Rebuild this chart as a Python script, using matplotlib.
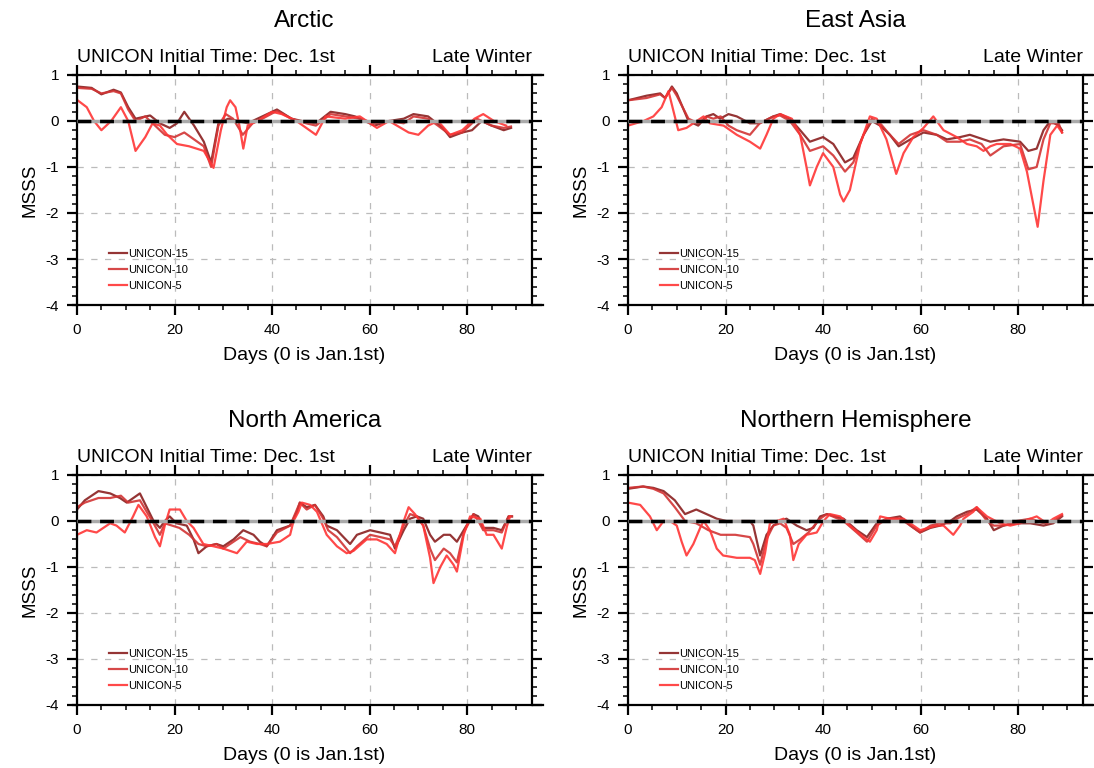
import numpy as np
import matplotlib
matplotlib.use("Agg")
import matplotlib.pyplot as plt
from matplotlib.ticker import MultipleLocator

plt.rcParams['font.family'] = ['Liberation Sans', 'DejaVu Sans']
plt.rcParams['axes.unicode_minus'] = False

# ---- Arctic ----
arc_x15 = [0, 3, 5, 7.5, 9, 10.5, 12, 15, 17, 19, 20.5, 22, 24, 26, 27.5, 29, 31, 33, 35, 38,
           41, 44, 47, 49, 52, 55, 57, 61, 64, 67, 69, 72, 75, 76.5, 79, 81, 83, 85, 87.5, 89]
arc_y15 = [0.75, 0.72, 0.58, 0.68, 0.62, 0.3, 0.05, 0.12, -0.05, -0.15, -0.05, 0.2, -0.1, -0.45, -0.9, -0.05, 0.05, 0.0, -0.05, 0.1,
           0.25, 0.05, -0.02, -0.05, 0.2, 0.15, 0.1, -0.1, 0.0, 0.05, 0.15, 0.1, -0.15, -0.35, -0.25, -0.2, 0.0, -0.1, -0.2, -0.15]
arc_x10 = [0, 3, 5, 7.5, 9, 10.5, 12, 14, 16, 18, 20, 22, 24, 26, 27.5, 29, 30.5, 32, 34, 36,
           38, 41, 44, 47, 49, 52, 55, 58, 61, 64, 67, 69, 72, 74, 76.5, 79, 82, 85, 87.5, 89]
arc_y10 = [0.72, 0.7, 0.6, 0.65, 0.6, 0.25, 0.0, 0.1, -0.1, -0.3, -0.35, -0.25, -0.4, -0.55, -1.0, -0.1, 0.15, 0.05, -0.3, -0.05,
           0.05, 0.22, 0.05, -0.05, -0.1, 0.15, 0.1, 0.05, -0.05, 0.0, -0.05, 0.1, 0.05, -0.1, -0.3, -0.25, 0.05, -0.1, -0.15, -0.12]
arc_x5 = [0, 2, 3.5, 5, 7, 9, 10.5, 12, 14, 15.5, 17, 18.5, 20.5, 23, 26, 28, 29.5, 30.7, 31.4, 32.5,
          33.3, 34.1, 35, 37, 40, 42, 45, 49, 51, 55, 58, 61.5, 64, 68, 70, 72, 74, 76.5, 79, 81.5, 83.3, 85.5, 88]
arc_y5 = [0.46, 0.3, 0.0, -0.2, 0.0, 0.3, 0.0, -0.65, -0.35, -0.05, -0.1, -0.3, -0.5, -0.55, -0.65, -1.02, -0.2, 0.3, 0.45, 0.3,
          -0.1, -0.6, -0.1, 0.0, 0.2, 0.15, 0.0, -0.3, 0.1, 0.05, 0.1, -0.15, 0.0, -0.25, -0.3, -0.1, 0.0, -0.3, -0.2, 0.05, 0.15, 0.0, -0.1]

# ---- East Asia ----
ea_x15 = [0, 3.8, 6.6, 7.6, 9, 10, 12.4, 14.4, 16.1, 17.5, 18.9, 20.6, 22.3, 25, 27, 29.8, 31.2, 33.2, 35.3, 37.3,
          40, 42.1, 44.5, 46.2, 48.3, 50, 51.7, 53.7, 55.5, 57.9, 60.6, 63.3, 65.4, 68.1, 70.1, 71.5, 74.3, 77, 80.4, 82.1,
          83.8, 85.2, 86.6, 88.3, 89]
ea_y15 = [0.45, 0.55, 0.6, 0.5, 0.75, 0.6, 0.0, -0.1, 0.1, 0.15, 0.05, 0.15, 0.1, -0.05, -0.05, 0.1, 0.15, 0.05, -0.2, -0.45,
          -0.35, -0.5, -0.9, -0.8, -0.3, 0.0, -0.1, -0.3, -0.55, -0.4, -0.25, -0.3, -0.4, -0.35, -0.3, -0.35, -0.45, -0.4, -0.45, -0.65,
          -0.6, -0.2, 0.0, -0.1, -0.2]
ea_x10 = [0, 3.8, 6.6, 7.6, 9, 10, 12.4, 14.4, 16.1, 17.5, 19, 20.6, 22.3, 25, 27, 29.8, 31.2, 33.2, 35.3, 37.3,
          40, 42.1, 44.5, 46.2, 48.3, 50, 51.7, 53.7, 55.5, 57.9, 60.6, 63.3, 65.4, 68.1, 70.1, 72.5, 74.3, 77, 80.4, 82.1,
          83.8, 85.2, 86.6, 88.3, 89]
ea_y10 = [0.45, 0.5, 0.58, 0.5, 0.72, 0.55, 0.05, -0.05, 0.1, 0.05, 0.1, -0.1, -0.2, -0.3, -0.05, 0.1, 0.12, 0.0, -0.3, -0.65,
          -0.55, -0.75, -1.1, -0.9, -0.3, 0.05, -0.05, -0.3, -0.5, -0.3, -0.2, -0.3, -0.45, -0.45, -0.4, -0.5, -0.75, -0.55, -0.5, -1.05,
          -1.0, -0.4, -0.05, -0.05, -0.25]
ea_x5 = [0, 3.2, 5.2, 6.9, 8.3, 10.3, 12, 14.1, 15.5, 16.8, 19.6, 22.3, 25, 27.1, 28.4, 29.8, 31.2, 33.6, 35.3, 36.6,
         37.3, 38.7, 40, 42.1, 43.5, 44.2, 45.5, 47.6, 49.6, 51, 53, 55, 56.5, 58.5, 60.6, 62.6, 64.7, 67.4, 69.5, 71.5,
         72.9, 74.3, 75.6, 78.4, 80.4, 81.8, 84, 85.2, 86.6, 88, 89]
ea_y5 = [-0.1, 0.0, 0.1, 0.3, 0.65, -0.2, -0.15, 0.0, 0.1, -0.05, -0.1, -0.3, -0.45, -0.6, -0.3, 0.05, 0.15, 0.05, -0.3, -1.0,
         -1.4, -1.0, -0.7, -1.0, -1.6, -1.75, -1.5, -0.5, 0.1, 0.05, -0.4, -1.15, -0.7, -0.35, -0.15, 0.1, -0.2, -0.35, -0.5, -0.55,
         -0.65, -0.55, -0.5, -0.5, -0.6, -1.1, -2.3, -1.3, -0.3, -0.1, -0.25]

# ---- North America ----
na_x15 = [0, 1.6, 4.4, 6.8, 8.8, 10.2, 12.9, 14.3, 15.7, 17, 18, 19, 20.4, 22.5, 23.9, 24.9, 26.6, 28.6, 30, 32.1,
          34.1, 36.2, 37.5, 38.9, 41, 43.7, 45.1, 45.7, 47.1, 48.8, 50.5, 51.2, 53.3, 56, 57.4, 60.1, 62.2, 64.2, 65.2, 67,
          68.3, 69.7, 71, 72.4, 73.4, 75.2, 76.5, 77.9, 79.3, 81.3, 82.3, 83.3, 85.4, 87.1, 88.5, 89.2]
na_y15 = [0.25, 0.45, 0.65, 0.6, 0.5, 0.4, 0.6, 0.3, 0.0, -0.15, 0.0, 0.1, -0.05, -0.1, -0.4, -0.7, -0.55, -0.5, -0.55, -0.4,
          -0.2, -0.3, -0.45, -0.55, -0.2, -0.1, 0.2, 0.4, 0.3, 0.35, 0.1, -0.1, -0.2, -0.5, -0.3, -0.2, -0.25, -0.3, -0.6, -0.2,
          0.05, 0.1, 0.05, -0.3, -0.45, -0.3, -0.3, -0.45, -0.2, 0.15, 0.1, -0.15, -0.15, -0.2, 0.1, 0.1]
na_x10 = [0, 1.6, 4.4, 6.8, 9, 10.5, 12.9, 14.3, 15.7, 17, 18, 19.5, 21, 23, 24.9, 26.6, 28.6, 30, 32.1, 33.5,
          35.5, 37.5, 38.9, 41, 43.7, 45.1, 45.7, 47.1, 48.8, 50.5, 51.5, 53.3, 56, 57.4, 60.1, 62.2, 64.2, 65.2, 67, 68.3,
          69.7, 71, 72.4, 73.4, 75.2, 76.5, 77.9, 79.3, 81.3, 82.3, 83.3, 85.4, 87.1, 88.5, 89.2]
na_y10 = [0.3, 0.4, 0.5, 0.5, 0.55, 0.4, 0.45, 0.2, -0.05, -0.3, -0.05, -0.1, -0.15, -0.3, -0.5, -0.55, -0.5, -0.6, -0.45, -0.35,
          -0.45, -0.5, -0.55, -0.25, -0.1, 0.25, 0.4, 0.25, 0.35, 0.05, -0.2, -0.35, -0.7, -0.55, -0.3, -0.35, -0.4, -0.55, -0.1, 0.15,
          0.1, -0.1, -0.6, -0.85, -0.6, -0.7, -0.9, -0.25, 0.15, 0.0, -0.2, -0.2, -0.25, 0.1, 0.1]
na_x5 = [0, 2, 4, 6.8, 8.1, 9.8, 11.5, 12.6, 14.3, 16, 17, 18, 19, 21.1, 22.5, 23.9, 25.9, 28, 30, 32.8,
         34.8, 36.9, 38.9, 41.6, 43.7, 44.4, 45.4, 46.1, 47.8, 49.2, 51.2, 53.3, 55.3, 56.7, 59.4, 61.5, 63.5, 65.2, 67, 68,
         69.3, 71, 72.4, 73.1, 74.5, 75.8, 77.2, 77.9, 79.3, 80.6, 82.7, 84, 85.4, 87.1, 88.2, 88.8]
na_y5 = [-0.3, -0.2, -0.25, -0.05, -0.1, -0.25, 0.1, 0.35, 0.1, -0.35, -0.55, -0.1, 0.25, 0.25, 0.0, -0.15, -0.5, -0.55, -0.6, -0.7,
         -0.45, -0.5, -0.5, -0.45, -0.3, 0.0, 0.2, 0.4, 0.35, 0.2, -0.3, -0.55, -0.7, -0.65, -0.4, -0.4, -0.5, -0.7, 0.0, 0.3,
         0.15, -0.1, -0.8, -1.35, -1.0, -0.75, -0.95, -1.1, -0.3, 0.1, 0.05, -0.3, -0.3, -0.6, -0.1, 0.1]

# ---- Northern Hemisphere ----
nh_x15 = [0, 3.1, 5.2, 7.3, 9.6, 11.7, 14, 16.1, 18.2, 20.2, 22, 25, 25.7, 27.1, 28.4, 29.8, 31.2, 32.5, 34.6, 36.6,
          38, 39.4, 40.8, 44.2, 46.9, 49, 51, 53.1, 55.8, 57.9, 59.9, 62, 64, 66.1, 67.4, 69.5, 71.5, 73.6, 75, 77,
          79.7, 82.5, 85.2, 87.2, 89]
nh_y15 = [0.7, 0.75, 0.72, 0.65, 0.45, 0.15, 0.25, 0.15, 0.05, 0.0, 0.0, 0.0, -0.1, -0.75, -0.3, -0.1, 0.0, 0.05, -0.1, -0.2,
          -0.15, 0.1, 0.15, 0.05, -0.2, -0.35, -0.05, 0.05, 0.1, -0.1, -0.25, -0.15, -0.1, 0.0, 0.1, 0.2, 0.25, 0.05, -0.2, -0.1,
          -0.05, -0.05, -0.1, -0.05, 0.1]
nh_x10 = [0, 3.1, 5.2, 7.3, 9.6, 11.7, 14, 16.5, 19, 22, 25, 25.7, 27.1, 28.4, 29.8, 31.2, 32.5, 33.9, 35.3, 37,
          39.4, 40.8, 44.2, 46.9, 49, 51, 53.1, 55.8, 57.9, 59.9, 62, 64, 66.1, 67.4, 69.5, 71.5, 73.6, 75, 77, 79.7,
          82.5, 85.2, 87.2, 89]
nh_y10 = [0.72, 0.75, 0.7, 0.6, 0.3, 0.0, -0.05, -0.2, -0.3, -0.3, -0.35, -0.5, -0.95, -0.4, -0.1, -0.05, -0.15, -0.5, -0.4, -0.25,
          0.05, 0.15, 0.0, -0.25, -0.45, -0.1, 0.05, 0.05, -0.1, -0.25, -0.1, -0.05, -0.05, 0.05, 0.15, 0.3, 0.0, -0.1, -0.1, 0.0,
          0.05, -0.05, 0.0, 0.12]
nh_x5 = [0, 2.5, 4.5, 5.9, 7.3, 8.6, 10, 11, 12, 13.4, 14.8, 15.5, 16.8, 18.2, 19.5, 22.3, 25, 26, 27.1, 28.1,
         29.1, 30.5, 31.9, 33.2, 33.9, 35, 36.6, 38.7, 40.1, 41.4, 43.5, 45.5, 48.3, 49.6, 51, 51.7, 53.7, 56.5, 59.9, 63.3,
         64.7, 66.7, 68.1, 68.8, 70.8, 71.5, 73.6, 76.3, 78.4, 80.4, 82.5, 83.8, 85.9, 87.2, 89]
nh_y5 = [0.4, 0.35, 0.1, -0.2, 0.0, 0.0, -0.1, -0.45, -0.75, -0.5, -0.15, 0.0, -0.2, -0.6, -0.75, -0.8, -0.8, -0.85, -1.15, -0.7,
         -0.05, 0.0, 0.05, -0.3, -0.85, -0.5, -0.3, -0.25, 0.0, 0.15, 0.1, -0.1, -0.35, -0.45, -0.2, 0.1, 0.05, 0.05, -0.2, -0.1,
         -0.1, -0.3, -0.1, 0.05, 0.2, 0.3, 0.1, -0.05, -0.1, -0.05, 0.05, 0.1, -0.05, 0.05, 0.15]

titles = ["Arctic", "East Asia", "North America", "Northern Hemisphere"]
labels = ["UNICON-15", "UNICON-10", "UNICON-5"]
colors = ["#8a1f1f", "#d23434", "#ff3535"]

panels = [
    [(arc_x15, arc_y15), (arc_x10, arc_y10), (arc_x5, arc_y5)],
    [(ea_x15, ea_y15), (ea_x10, ea_y10), (ea_x5, ea_y5)],
    [(na_x15, na_y15), (na_x10, na_y10), (na_x5, na_y5)],
    [(nh_x15, nh_y15), (nh_x10, nh_y10), (nh_x5, nh_y5)],
]

fig = plt.figure(figsize=(10.94, 7.68), dpi=100)
W, H = 1094.0, 768.0
boxes = [(77, 75), (628, 75), (77, 475), (628, 475)]
aw, ah = 455, 230

for i in range(4):
    x0, y0 = boxes[i]
    ax = fig.add_axes([x0 / W, 1 - (y0 + ah) / H, aw / W, ah / H])
    for (xs, ys), lab, c in zip(panels[i], labels, colors):
        ax.plot(xs, ys, color=c, lw=1.6, label=lab, alpha=0.9)
    ax.axhline(0, color="#aaaaaa", lw=2.5, zorder=4)
    ax.axhline(0, color="black", lw=2.5, ls=(0, (4, 2.5)), zorder=5)
    ax.set_xlim(0, 93.3)
    ax.set_ylim(-4, 1)
    ax.xaxis.set_major_locator(MultipleLocator(20))
    ax.xaxis.set_minor_locator(MultipleLocator(5))
    ax.yaxis.set_major_locator(MultipleLocator(1))
    ax.yaxis.set_minor_locator(MultipleLocator(0.2))
    ax.grid(True, which="major", color="#bbbbbb", ls=(0, (5, 6)), lw=0.9)
    ax.tick_params(which="both", direction="out", top=True, right=True, labelsize=11, pad=6)
    ax.tick_params(which="major", length=7, width=1.6)
    ax.tick_params(which="minor", length=3.5, width=1.1)
    for s in ax.spines.values():
        s.set_linewidth(1.6)
    ax.spines["bottom"].set_bounds(-0.8, 95.5)
    ax.spines["top"].set_bounds(-0.8, 95.5)
    ax.set_xlabel("Days (0 is Jan.1st)", fontsize=14, labelpad=7)
    ax.set_ylabel("MSSS", fontsize=13.5, labelpad=5)
    ax.text(0.5, 1.209, titles[i], transform=ax.transAxes, ha="center", va="baseline", fontsize=17.5)
    ax.text(0.0, 1.057, "UNICON Initial Time: Dec. 1st", transform=ax.transAxes, ha="left", va="baseline", fontsize=14)
    ax.text(1.0, 1.057, "Late Winter", transform=ax.transAxes, ha="right", va="baseline", fontsize=14)
    ax.legend(loc="lower left", bbox_to_anchor=(0.06, 0.04), frameon=False, fontsize=8,
              handlelength=1.6, handletextpad=0.1, labelspacing=0.55, borderaxespad=0)

fig.savefig("out.png", dpi=100)
